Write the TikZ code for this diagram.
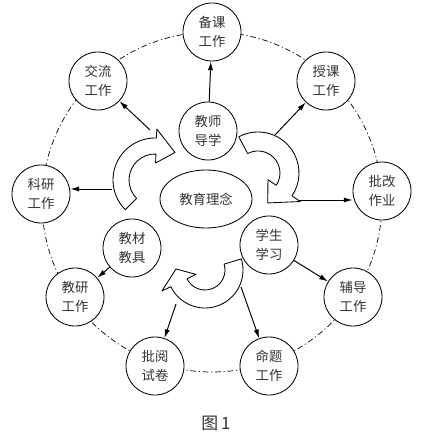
\documentclass[tikz,border=0pt]{standalone}
\usepackage{fontspec}
\newfontfamily\cjk{Noto Sans CJK SC}
\usetikzlibrary{arrows.meta,positioning,shapes.geometric,calc}
\tikzset{
  work/.style={circle, draw, fill=white, line width=0.6pt, minimum size=1.45cm, inner sep=0pt,
               font=\cjk\fontsize{9.5}{13.5}\selectfont, align=center, text=black!80},
  idea/.style={ellipse, draw, fill=white, line width=0.6pt, minimum width=2.3cm, minimum height=1.45cm,
               inner sep=0pt, font=\cjk\fontsize{9.5}{13.5}\selectfont, text=black!80},
  ring/.style={line width=0.5pt, dash pattern=on 4pt off 2pt on 0.8pt off 2pt},
  link/.style={line width=0.7pt, -{Latex[length=2.2mm,width=1.3mm]}},
  turn/.style={draw, fill=white, line width=0.6pt, line join=round},
}
% centre, tail angle, head angle, tip angle, inner r, outer r, overhang
\newcommand{\bigturn}[7]{%
  \draw[turn] ($(#1)+({#2}:{#6})$) arc[start angle=#2, end angle=#3, radius=#6]
    -- ($(#1)+({#3}:{#6+#7})$) -- ($(#1)+({#4}:{(#5+#6)/2})$)
    -- ($(#1)+({#3}:{#5-#7})$) -- ($(#1)+({#3}:{#5})$)
    arc[start angle=#3, end angle=#2, radius=#5] -- cycle;}

\begin{document}
\begin{tikzpicture}[x=0.025cm, y=0.025cm]
\useasboundingbox (0,0) rectangle (421,-438);

% outer ring
\draw[ring] (212,-202) circle[radius=170];

% work around the ring
\node[work] (beike) at (212,-32) {备课\\工作};
\node[work] (shouke) at (326,-81) {授课\\工作};
\node[work] (pigai) at (382,-191) {批改\\作业};
\node[work] (fudao) at (353,-297) {辅导\\工作};
\node[work] (mingti) at (269,-366) {命题\\工作};
\node[work] (piyue) at (155,-366) {批阅\\试卷};
\node[work] (jiaoyan) at (75,-297) {教研\\工作};
\node[work] (keyan) at (41,-194) {科研\\工作};
\node[work] (jiaoliu) at (98,-81) {交流\\工作};

% inside
\node[work] (jiaoshi) at (208,-131) {教师\\导学};
\node[work] (xuesheng) at (269,-245) {学生\\学习};
\node[work] (jiaocai) at (132,-248) {教材\\教具};
\node[idea] (linian) at (206,-199) {教育理念};

% connectors
\coordinate (t1) at (150,-130);
\coordinate (t2) at (275,-135);
\coordinate (t3) at (112,-189);
\coordinate (t4) at (297,-200);
\coordinate (t5) at (241,-287);
\coordinate (t6) at (176,-304);
\draw[link] (jiaoshi) -- (beike);
\draw[link] (xuesheng) -- (fudao);
\draw[link] (jiaocai) -- (jiaoyan);
\draw[link] (t1) -- (jiaoliu);
\draw[link] (t2) -- (shouke);
\draw[link] (t3) -- (t3 -| keyan.east);
\draw[link] (t4) -- (t4 -| pigai.west);
\draw[link] (t5) -- (mingti);
\draw[link] (t6) -- (piyue);

% the three turning arrows
\coordinate (c1) at (155,-180);
\coordinate (c2) at (258,-173);
\coordinate (c3) at (205,-270);
\bigturn{c1}{225}{88}{54}{26}{42}{9}
\bigturn{c2}{118}{-34}{-72}{22}{41}{10}
\bigturn{c3}{17}{-154}{-182}{20}{38}{10}

\node[font=\cjk\fontsize{12}{14}\selectfont, text=black!80] (fig) at (216,-423) {图\,1};
\end{tikzpicture}
\end{document}
